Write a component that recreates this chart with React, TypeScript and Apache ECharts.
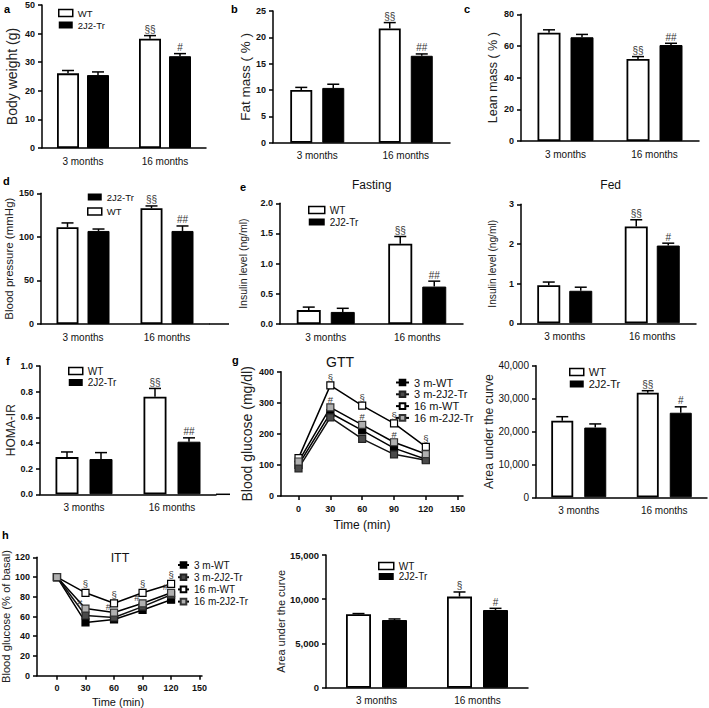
import React, { useEffect, useRef } from "react";
import * as echarts from "echarts";

// ---------- data ----------
const CATEGORIES = ["3 months", "16 months"];
const TIME_POINTS = [0, 30, 60, 90, 120];
const TIME_TICKS = [0, 30, 60, 90, 120, 150];

// a Body weight (g)
const bodyWeightWT = [26.1, 38.2];
const bodyWeightWTErr = [1.0, 1.1];
const bodyWeightTr = [25.5, 32.1];
const bodyWeightTrErr = [1.1, 0.9];
const bodyWeightMarksWT = ["", "§§"];
const bodyWeightMarksTr = ["", "#"];

// b Fat mass (%)
const fatMassWT = [10.0, 21.7];
const fatMassWTErr = [0.5, 1.1];
const fatMassTr = [10.4, 16.5];
const fatMassTrErr = [0.7, 0.35];
const fatMassMarksWT = ["", "§§"];
const fatMassMarksTr = ["", "##"];

// c Lean mass (%)
const leanMassWT = [68.4, 51.8];
const leanMassWTErr = [1.8, 1.5];
const leanMassTr = [65.5, 60.6];
const leanMassTrErr = [1.8, 1.1];
const leanMassMarksWT = ["", "§§"];
const leanMassMarksTr = ["", "##"];

// d Blood pressure (mmHg)
const bpWT = [111, 132.8];
const bpWTErr = [5, 2.7];
const bpTr = [106.8, 106.8];
const bpTrErr = [2.2, 5.7];
const bpMarksWT = ["", "§§"];
const bpMarksTr = ["", "##"];

// e Fasting insulin (ng/ml)
const fastingWT = [0.23, 1.33];
const fastingWTErr = [0.05, 0.12];
const fastingTr = [0.2, 0.62];
const fastingTrErr = [0.06, 0.09];
const fastingMarksWT = ["", "§§"];
const fastingMarksTr = ["", "##"];

// e Fed insulin (ng/ml)
const fedWT = [0.96, 2.44];
const fedWTErr = [0.08, 0.17];
const fedTr = [0.82, 1.96];
const fedTrErr = [0.09, 0.06];
const fedMarksWT = ["", "§§"];
const fedMarksTr = ["", "#"];

// f HOMA-IR
const homaWT = [0.29, 0.76];
const homaWTErr = [0.04, 0.065];
const homaTr = [0.275, 0.41];
const homaTrErr = [0.05, 0.03];
const homaMarksWT = ["", "§§"];
const homaMarksTr = ["", "##"];

// g GTT AUC
const gttAucWT = [23300, 31800];
const gttAucWTErr = [1200, 600];
const gttAucTr = [21200, 25700];
const gttAucTrErr = [1100, 1800];
const gttAucMarksWT = ["", "§§"];
const gttAucMarksTr = ["", "#"];

// h ITT AUC
const ittAucWT = [8300, 10300];
const ittAucWTErr = [80, 520];
const ittAucTr = [7650, 8780];
const ittAucTrErr = [120, 190];
const ittAucMarksWT = ["", "§"];
const ittAucMarksTr = ["", "#"];

// g GTT curves (mg/dl)
const gtt3mWT = [100, 267, 211, 154, 118];
const gtt3mTr = [89, 253, 184, 134, 115];
const gtt16mWT = [122, 356, 291, 234, 158];
const gtt16mTr = [111, 285, 229, 173, 135];
const gttMarks16mWT = ["", "§", "§", "§", "§"];
const gttMarks16mTr = ["", "#", "#", "#", ""];

// h ITT curves (% of basal)
const itt3mWT = [100, 54, 57, 66.6, 77];
const itt3mTr = [100, 61, 59, 70, 82];
const itt16mWT = [100, 84, 73.4, 84, 93];
const itt16mTr = [100, 68, 64, 73.4, 84];
const ittMarks16mWT = ["", "§", "§", "§", "§"];
const ittMarks16mTr = ["", "#", "#", "#", "#"];

// ---------- styles ----------
const NARROW = "'Liberation Sans Narrow','Arial Narrow','Liberation Sans',Arial,sans-serif";
const SANS = "'Liberation Sans',Arial,sans-serif";
const AXIS_LINE = { color: "#000", width: 1.5 };
const CAP = 6;

type Legend = { left: number; top: number; fontSize: number; family: string; gap: number; itemWidth: number; order: string[] };
type BarPanel = {
  left: number; top: number; width: number; height: number;
  barWidth: number; gap: number; yMax: number; yInterval: number;
  fmt: "int" | "dec1" | "thousands"; tickBold: boolean; tickFamily: string; tickSize: number;
  yName: string; nameSize: number; nameGap: number;
  wt: number[]; wtErr: number[]; tr: number[]; trErr: number[]; wtMarks: string[]; trMarks: string[];
  legend?: Legend; extendTo?: number;
};

const fmtFn = (f: string) => (v: number) =>
  f === "dec1" ? v.toFixed(1) : f === "thousands" ? v.toLocaleString("en-US") : String(v);

const barPanels: BarPanel[] = [
  { left: 42, top: 5, width: 164, height: 143, barWidth: 22, gap: 8, yMax: 50, yInterval: 10, fmt: "int", tickBold: true, tickFamily: NARROW, tickSize: 9,
    yName: "Body weight (g)", nameSize: 14, nameGap: 23,
    wt: bodyWeightWT, wtErr: bodyWeightWTErr, tr: bodyWeightTr, trErr: bodyWeightTrErr, wtMarks: bodyWeightMarksWT, trMarks: bodyWeightMarksTr,
    legend: { left: 58, top: 8, fontSize: 9.5, family: NARROW, gap: 2, itemWidth: 14, order: ["WT", "2J2-Tr"] } },
  { left: 273, top: 11, width: 177, height: 131.7, barWidth: 22, gap: 10, yMax: 25, yInterval: 5, fmt: "int", tickBold: true, tickFamily: NARROW, tickSize: 9,
    yName: "Fat mass ( % )", nameSize: 13.5, nameGap: 20,
    wt: fatMassWT, wtErr: fatMassWTErr, tr: fatMassTr, trErr: fatMassTrErr, wtMarks: fatMassMarksWT, trMarks: fatMassMarksTr },
  { left: 521, top: 14.3, width: 178, height: 126.7, barWidth: 23, gap: 10, yMax: 80, yInterval: 20, fmt: "int", tickBold: true, tickFamily: NARROW, tickSize: 9,
    yName: "Lean mass ( % )", nameSize: 12.5, nameGap: 22,
    wt: leanMassWT, wtErr: leanMassWTErr, tr: leanMassTr, trErr: leanMassTrErr, wtMarks: leanMassMarksWT, trMarks: leanMassMarksTr },
  { left: 41, top: 193.3, width: 168, height: 130.7, barWidth: 22, gap: 9, yMax: 150, yInterval: 50, fmt: "int", tickBold: true, tickFamily: NARROW, tickSize: 9,
    yName: "Blood pressure (mmHg)", nameSize: 11.5, nameGap: 26,
    wt: bpWT, wtErr: bpWTErr, tr: bpTr, trErr: bpTrErr, wtMarks: bpMarksWT, trMarks: bpMarksTr,
    legend: { left: 87, top: 192, fontSize: 9.5, family: NARROW, gap: 4.5, itemWidth: 14, order: ["2J2-Tr", "WT"] }, extendTo: 229 },
  { left: 280, top: 203.3, width: 183, height: 120.7, barWidth: 24, gap: 10, yMax: 2, yInterval: 0.5, fmt: "dec1", tickBold: true, tickFamily: NARROW, tickSize: 9,
    yName: "Insulin level (ng/ml)", nameSize: 10.5, nameGap: 32,
    wt: fastingWT, wtErr: fastingWTErr, tr: fastingTr, trErr: fastingTrErr, wtMarks: fastingMarksWT, trMarks: fastingMarksTr,
    legend: { left: 308, top: 205, fontSize: 10, family: NARROW, gap: 2, itemWidth: 16, order: ["WT", "2J2-Tr"] } },
  { left: 521, top: 204.3, width: 175, height: 119, barWidth: 23, gap: 9, yMax: 3, yInterval: 1, fmt: "int", tickBold: true, tickFamily: NARROW, tickSize: 9,
    yName: "Insulin level (ng/ml)", nameSize: 10.2, nameGap: 23.7,
    wt: fedWT, wtErr: fedWTErr, tr: fedTr, trErr: fedTrErr, wtMarks: fedMarksWT, trMarks: fedMarksTr },
  { left: 40, top: 366, width: 176, height: 128.3, barWidth: 23, gap: 11, yMax: 1, yInterval: 0.2, fmt: "dec1", tickBold: true, tickFamily: NARROW, tickSize: 9,
    yName: "HOMA-IR", nameSize: 12, nameGap: 20,
    wt: homaWT, wtErr: homaWTErr, tr: homaTr, trErr: homaTrErr, wtMarks: homaMarksWT, trMarks: homaMarksTr,
    legend: { left: 68, top: 366, fontSize: 10, family: NARROW, gap: 1.5, itemWidth: 14, order: ["WT", "2J2-Tr"] }, extendTo: 230 },
  { left: 536, top: 365.7, width: 171, height: 131.6, barWidth: 22, gap: 11, yMax: 40000, yInterval: 10000, fmt: "thousands", tickBold: false, tickFamily: SANS, tickSize: 10,
    yName: "Area under the curve", nameSize: 12.3, nameGap: 32,
    wt: gttAucWT, wtErr: gttAucWTErr, tr: gttAucTr, trErr: gttAucTrErr, wtMarks: gttAucMarksWT, trMarks: gttAucMarksTr,
    legend: { left: 569, top: 366.5, fontSize: 11, family: SANS, gap: 1, itemWidth: 14, order: ["WT", "2J2-Tr"] } },
  { left: 326, top: 555, width: 202, height: 132.7, barWidth: 25, gap: 11, yMax: 15000, yInterval: 5000, fmt: "thousands", tickBold: true, tickFamily: NARROW, tickSize: 9.5,
    yName: "Area under the curve", nameSize: 11, nameGap: 35.5,
    wt: ittAucWT, wtErr: ittAucWTErr, tr: ittAucTr, trErr: ittAucTrErr, wtMarks: ittAucMarksWT, trMarks: ittAucMarksTr,
    legend: { left: 378, top: 561, fontSize: 10, family: SANS, gap: 0.5, itemWidth: 15, order: ["WT", "2J2-Tr"] } },
];

type LinePanel = {
  left: number; top: number; width: number; height: number; xMin: number; xMax: number;
  yMax: number; yInterval: number; yName: string; nameSize: number; nameGap: number;
  series: { name: string; data: number[]; marks: string[]; fill: string; border: string; line: string; labelPos: any; labelOffset: number[] }[];
  legend: { left: number; top: number; fontSize: number; gap: number; itemWidth: number };
};

const linePanels: LinePanel[] = [
  { left: 281, top: 371.7, width: 182, height: 124.3, xMin: -16.5, xMax: 155, yMax: 400, yInterval: 100,
    yName: "Blood glucose (mg/dl)", nameSize: 14, nameGap: 27,
    series: [
      { name: "3 m-WT", data: gtt3mWT, marks: [], fill: "#000", border: "#000", line: "#000", labelPos: "top", labelOffset: [0, 0] },
      { name: "3 m-2J2-Tr", data: gtt3mTr, marks: [], fill: "#4a4a4a", border: "#222", line: "#111", labelPos: "top", labelOffset: [0, 0] },
      { name: "16 m-WT", data: gtt16mWT, marks: gttMarks16mWT, fill: "#fff", border: "#000", line: "#000", labelPos: "top", labelOffset: [0, 1] },
      { name: "16 m-2J2-Tr", data: gtt16mTr, marks: gttMarks16mTr, fill: "#b0b0b0", border: "#333", line: "#000", labelPos: "top", labelOffset: [0, 1] },
    ],
    legend: { left: 395, top: 377, fontSize: 11, gap: 0.8, itemWidth: 13 } },
  { left: 37, top: 557.3, width: 165, height: 118.4, xMin: -21, xMax: 152.5, yMax: 120, yInterval: 20,
    yName: "Blood glucose (% of basal)", nameSize: 11.2, nameGap: 18.5,
    series: [
      { name: "3 m-WT", data: itt3mWT, marks: [], fill: "#000", border: "#000", line: "#000", labelPos: "top", labelOffset: [0, 0] },
      { name: "3 m-2J2-Tr", data: itt3mTr, marks: [], fill: "#4a4a4a", border: "#222", line: "#111", labelPos: "top", labelOffset: [0, 0] },
      { name: "16 m-WT", data: itt16mWT, marks: ittMarks16mWT, fill: "#fff", border: "#000", line: "#000", labelPos: "top", labelOffset: [0, 0] },
      { name: "16 m-2J2-Tr", data: itt16mTr, marks: ittMarks16mTr, fill: "#b0b0b0", border: "#333", line: "#000", labelPos: "left", labelOffset: [1, -6] },
    ],
    legend: { left: 177, top: 560, fontSize: 10, gap: 2.2, itemWidth: 11 } },
];

const panelLetters = [
  { t: "a", x: 4, y: 3 }, { t: "b", x: 231, y: 3 }, { t: "c", x: 464, y: 3 },
  { t: "d", x: 3, y: 175 }, { t: "e", x: 240, y: 181 }, { t: "f", x: 6, y: 355 },
  { t: "g", x: 232, y: 354 }, { t: "h", x: 2, y: 529 },
];
const titles = [
  { t: "Fasting", x: 371.7, y: 185, size: 12 }, { t: "Fed", x: 610.7, y: 185, size: 12 },
  { t: "GTT", x: 340, y: 362, size: 14 }, { t: "ITT", x: 120, y: 557.5, size: 12.5 },
];
const xNames = [
  { t: "Time (min)", x: 362, y: 525, size: 12, family: SANS },
  { t: "Time (min)", x: 118, y: 701.5, size: 11, family: NARROW },
];

function errorSeries(gi: number, vals: number[], errs: number[], marks: string[], offset: number) {
  return {
    type: "custom", xAxisIndex: gi, yAxisIndex: gi, z: 5, silent: true,
    data: vals.map((v, k) => [k, v, errs[k]]),
    renderItem: (params: any, api: any) => {
      const k = api.value(0), v = api.value(1), e = api.value(2);
      const p0 = api.coord([k, v]);
      const p1 = api.coord([k, v + e]);
      const x = p0[0] + offset;
      const mark = marks[params.dataIndex];
      const children: any[] = [
        { type: "line", shape: { x1: x, y1: p0[1], x2: x, y2: p1[1] }, style: { stroke: "#000", lineWidth: 1.5 } },
        { type: "line", shape: { x1: x - CAP, y1: p1[1], x2: x + CAP, y2: p1[1] }, style: { stroke: "#000", lineWidth: 1.5 } },
      ];
      if (mark) {
        children.push({ type: "text", x, y: p1[1] - 1, style: { text: mark, align: "center", verticalAlign: "bottom", fontSize: 10, fontFamily: SANS, fill: "#333" } });
      }
      return { type: "group", children };
    },
  };
}

function buildOption() {
  const grid: any[] = [], xAxis: any[] = [], yAxis: any[] = [], series: any[] = [], legend: any[] = [], graphic: any[] = [];

  barPanels.forEach((p) => {
    const gi = grid.length;
    grid.push({ left: p.left, top: p.top, width: p.width, height: p.height, outerBoundsMode: "none", containLabel: false });
    xAxis.push({
      gridIndex: gi, type: "category", data: CATEGORIES,
      axisLine: { onZero: false, lineStyle: AXIS_LINE },
      axisTick: { alignWithLabel: true, length: 4, lineStyle: AXIS_LINE },
      axisLabel: { interval: 0, margin: 8, color: "#111", fontSize: 10, fontFamily: NARROW },
      splitLine: { show: false },
    });
    yAxis.push({
      gridIndex: gi, type: "value", min: 0, max: p.yMax, interval: p.yInterval,
      name: p.yName, nameLocation: "middle", nameGap: p.nameGap, nameRotate: 90,
      nameTextStyle: { fontSize: p.nameSize, fontFamily: SANS, color: "#222" },
      axisLine: { show: true, onZero: false, lineStyle: AXIS_LINE },
      axisTick: { show: true, length: 4, lineStyle: AXIS_LINE },
      axisLabel: { fontSize: p.tickSize, fontWeight: p.tickBold ? "bold" : "normal", fontFamily: p.tickFamily, color: "#111", margin: 7, formatter: fmtFn(p.fmt) },
      splitLine: { show: false },
    });
    const gapPct = `${(p.gap / p.barWidth) * 100}%`;
    series.push({ type: "bar", name: "WT", xAxisIndex: gi, yAxisIndex: gi, data: p.wt, barWidth: p.barWidth, barGap: gapPct, silent: true,
      itemStyle: { color: "#fff", borderColor: "#000", borderWidth: 1.8 } });
    series.push({ type: "bar", name: "2J2-Tr", xAxisIndex: gi, yAxisIndex: gi, data: p.tr, barWidth: p.barWidth, barGap: gapPct, silent: true,
      itemStyle: { color: "#000", borderColor: "#000", borderWidth: 1 } });
    const off = (p.barWidth + p.gap) / 2;
    series.push(errorSeries(gi, p.wt, p.wtErr, p.wtMarks, -off));
    series.push(errorSeries(gi, p.tr, p.trErr, p.trMarks, off));
    if (p.legend) {
      const L = p.legend;
      legend.push({
        left: L.left, top: L.top, orient: "vertical", padding: 0, itemWidth: L.itemWidth, itemHeight: 7, itemGap: L.gap, selectedMode: false,
        textStyle: { fontSize: L.fontSize, fontFamily: L.family, color: "#111" },
        data: L.order.map((n) => n === "WT"
          ? { name: "WT", icon: "rect", itemStyle: { color: "#fff", borderColor: "#000", borderWidth: 1.5 } }
          : { name: "2J2-Tr", icon: "rect", itemStyle: { color: "#000", borderColor: "#000", borderWidth: 0 } }),
      });
    }
    if (p.extendTo) {
      const y = p.top + p.height;
      graphic.push({ type: "line", shape: { x1: p.left + p.width, y1: y, x2: p.extendTo, y2: y }, style: { stroke: "#000", lineWidth: 1.5 } });
    }
  });

  linePanels.forEach((p) => {
    const gi = grid.length;
    grid.push({ left: p.left, top: p.top, width: p.width, height: p.height, outerBoundsMode: "none", containLabel: false });
    xAxis.push({
      gridIndex: gi, type: "value", min: p.xMin, max: p.xMax,
      axisLine: { onZero: false, lineStyle: AXIS_LINE },
      axisTick: { show: true, customValues: TIME_TICKS, length: 4, lineStyle: AXIS_LINE },
      axisLabel: { customValues: TIME_TICKS, fontSize: 9, fontWeight: "bold", fontFamily: NARROW, color: "#111", margin: 8 },
      splitLine: { show: false },
    });
    yAxis.push({
      gridIndex: gi, type: "value", min: 0, max: p.yMax, interval: p.yInterval,
      name: p.yName, nameLocation: "middle", nameGap: p.nameGap, nameRotate: 90,
      nameTextStyle: { fontSize: p.nameSize, fontFamily: SANS, color: "#222" },
      axisLine: { show: true, onZero: false, lineStyle: AXIS_LINE },
      axisTick: { show: true, length: 4, lineStyle: AXIS_LINE },
      axisLabel: { fontSize: 9, fontWeight: "bold", fontFamily: NARROW, color: "#111", margin: 7 },
      splitLine: { show: false },
    });
    p.series.forEach((s) => {
      series.push({
        type: "line", name: s.name, xAxisIndex: gi, yAxisIndex: gi, silent: true,
        data: TIME_POINTS.map((t, k) => [t, s.data[k]]),
        symbol: "rect", symbolSize: 7, showAllSymbol: true,
        lineStyle: { color: s.line, width: 1.5 },
        itemStyle: { color: s.fill, borderColor: s.border, borderWidth: 1.2 },
        label: {
          show: s.marks.length > 0, position: s.labelPos, distance: 0, offset: s.labelOffset,
          formatter: (pr: any) => s.marks[pr.dataIndex] || "",
          fontSize: 9.5, fontFamily: SANS, color: "#333",
        },
      });
    });
    legend.push({
      left: p.legend.left, top: p.legend.top, orient: "vertical", padding: 0, itemWidth: p.legend.itemWidth, itemHeight: 7,
      itemGap: p.legend.gap, selectedMode: false,
      textStyle: { fontSize: p.legend.fontSize, fontFamily: SANS, color: "#111" },
      data: p.series.map((s) => s.name),
    });
  });

  panelLetters.forEach((l) => graphic.push({ type: "text", x: l.x, y: l.y, style: { text: l.t, fontSize: 11, fontWeight: "bold", fontFamily: SANS, fill: "#000" } }));
  titles.forEach((t) => graphic.push({ type: "text", x: t.x, y: t.y, style: { text: t.t, align: "center", verticalAlign: "middle", fontSize: t.size, fontFamily: SANS, fill: "#111" } }));
  xNames.forEach((t) => graphic.push({ type: "text", x: t.x, y: t.y, style: { text: t.t, align: "center", verticalAlign: "middle", fontSize: t.size, fontFamily: t.family, fill: "#111" } }));

  return { animation: false, backgroundColor: "#fff", grid, xAxis, yAxis, series, legend, graphic };
}

export default function App() {
  const ref = useRef<HTMLDivElement>(null);
  useEffect(() => {
    const chart = echarts.init(ref.current!, null, { renderer: "svg" });
    chart.setOption(buildOption() as any);
    return () => chart.dispose();
  }, []);
  return <div ref={ref} style={{ position: "absolute", left: 0, top: 0, width: 709, height: 708, background: "#fff" }} />;
}
